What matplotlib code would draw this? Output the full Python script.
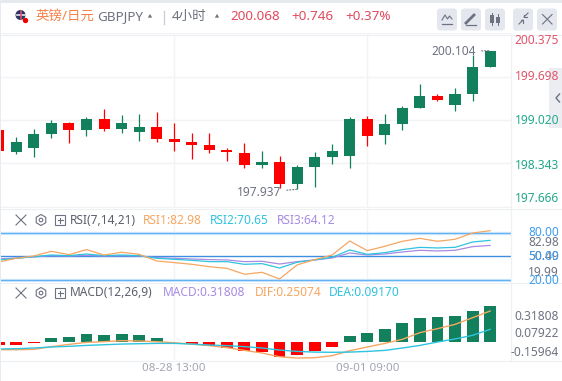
import numpy as np
import matplotlib
matplotlib.use('Agg')
import matplotlib.pyplot as plt
from matplotlib.patches import Circle, FancyBboxPatch, Rectangle, RegularPolygon

plt.rcParams['font.family'] = ['Noto Sans', 'Noto Sans CJK SC', 'DejaVu Sans']
plt.rcParams['font.size'] = 8.6

# candles, oldest one is cut by the left edge
candle_x = np.arange(-1, 28)
opens = [198.864, 198.520, 198.582, 198.801, 198.973, 198.864, 199.036, 198.879, 198.832, 198.910,
         198.723, 198.676, 198.629, 198.551, 198.504, 198.316, 198.363, 198.019, 198.285, 198.441,
         198.457, 199.036, 198.785, 198.957, 199.208, 199.395, 199.254, 199.426, 199.849]
highs = [198.864, 198.754, 198.879, 199.020, 198.989, 199.067, 199.192, 199.098, 199.114, 199.145,
         198.973, 198.817, 198.817, 198.582, 198.660, 198.535, 198.457, 198.316, 198.520, 198.645,
         199.067, 199.082, 199.114, 199.239, 199.583, 199.426, 199.520, 200.036, 200.104]
lows = [198.535, 198.488, 198.441, 198.738, 198.660, 198.770, 198.848, 198.817, 198.692, 198.676,
        198.535, 198.410, 198.504, 198.379, 198.269, 198.269, 197.957, 197.937, 197.972, 198.332,
        198.269, 198.613, 198.645, 198.864, 199.208, 199.317, 199.161, 199.317, 199.849]
closes = [198.535, 198.676, 198.801, 198.973, 198.864, 199.036, 198.879, 198.973, 198.910, 198.723,
          198.676, 198.629, 198.551, 198.520, 198.316, 198.363, 198.019, 198.285, 198.441, 198.535,
          199.036, 198.770, 198.957, 199.208, 199.395, 199.333, 199.426, 199.849, 200.099]
price_grid = [200.375, 199.698, 199.020, 198.343, 197.666]
price_labels = ['200.375', '199.698', '199.020', '198.343', '197.666']
price_label_y = [40.5, 77, 121, 165.5, 199]
price_label_colors = ['#e0556a', '#e0556a', '#23a88c', '#23a88c', '#23a88c']

rsi1 = [43.0, 47.7, 50.7, 56.6, 52.4, 58.8, 51.9, 55.4, 52.8, 44.3, 42.2, 40.0, 37.0, 34.9, 27.3,
        29.8, 21.3, 39.2, 46.0, 51.9, 69.8, 57.5, 63.0, 69.4, 73.2, 69.4, 72.0, 80.0, 82.98]
rsi2 = [45.6, 47.7, 49.8, 51.9, 51.1, 53.2, 51.1, 51.9, 51.1, 47.7, 46.4, 45.1, 43.4, 43.4, 40.0,
        40.9, 35.3, 42.6, 45.6, 49.0, 58.3, 52.8, 54.9, 58.8, 61.7, 60.9, 61.7, 68.5, 70.65]
rsi3 = [46.8, 48.1, 49.4, 51.1, 50.7, 51.5, 50.7, 51.1, 50.7, 48.5, 47.7, 46.8, 46.0, 45.6, 43.4,
        43.9, 40.4, 43.4, 45.6, 48.1, 54.5, 51.9, 53.2, 55.8, 57.9, 57.1, 57.9, 62.6, 64.12]

macd_hist = [-0.024, -0.024, -0.009, 0.035, 0.044, 0.071, 0.062, 0.071, 0.062, 0.035, 0.003, -0.015,
             -0.035, -0.053, -0.077, -0.089, -0.133, -0.115, -0.080, -0.044, 0.053, 0.080, 0.115,
             0.168, 0.212, 0.221, 0.230, 0.274, 0.31808]
dif = [-0.068, -0.068, -0.065, -0.041, -0.021, -0.003, 0.003, 0.012, 0.009, 0.003, -0.006, -0.018,
       -0.032, -0.050, -0.074, -0.097, -0.130, -0.142, -0.139, -0.121, -0.077, -0.044, -0.012, 0.024,
       0.083, 0.118, 0.156, 0.215, 0.274]
dea = [-0.062, -0.059, -0.053, -0.044, -0.038, -0.030, -0.024, -0.018, -0.015, -0.012, -0.012, -0.018,
       -0.027, -0.032, -0.041, -0.053, -0.071, -0.083, -0.089, -0.091, -0.089, -0.083, -0.074, -0.053,
       -0.030, 0.000, 0.027, 0.059, 0.112]
time_ticks = [9, 20]
time_labels = ['08-28 13:00', '09-01 09:00']

GREEN = '#12805c'
RED = '#ff0000'
ORANGE = '#f6a662'
CYAN = '#2fc3de'
PURPLE = '#a78be4'
GRID = '#f2f3f6'
GREY = '#6f7382'
W, H = 562, 381

fig = plt.figure(figsize=(W / 100, H / 100), dpi=100, facecolor='white')


def pane(x0, y0, x1, y1):
    # axes from pixel box, y counted from the top
    ax = fig.add_axes([x0 / W, 1 - y1 / H, (x1 - x0) / W, (y1 - y0) / H])
    ax.set_xlim(-0.929, 28.19)
    ax.set_xticks([])
    ax.set_yticks([])
    for s in ax.spines.values():
        s.set_visible(False)
    for t in time_ticks:
        ax.axvline(t, color=GRID, lw=1, zorder=0)
    return ax


# price pane
ax = pane(0, 33, 511, 208)
ax.set_ylim(197.644, 200.380)
for p in price_grid:
    ax.axhline(p, color=GRID, lw=1, zorder=0)
for x, o, h, l, c in zip(candle_x, opens, highs, lows, closes):
    col = GREEN if c >= o else RED
    ax.plot([x, x], [l, h], color=col, lw=0.9, solid_capstyle='butt', zorder=2)
    ax.bar(x, abs(c - o), bottom=min(o, c), width=0.63, color=col, zorder=3)
ax.annotate('197.937', xy=(16, 197.937), xytext=(15.1, 197.883), color=GREY, fontsize=8.6,
            ha='right', va='center', annotation_clip=False,
            arrowprops=dict(arrowstyle='-', ls=':', color=GREY, lw=0.8, shrinkA=2, shrinkB=0))
ax.annotate('200.104', xy=(27, 200.104), xytext=(26.2, 200.088), color=GREY, fontsize=8.6,
            ha='right', va='center', annotation_clip=False,
            arrowprops=dict(arrowstyle='-', ls=':', color=GREY, lw=0.8, shrinkA=2, shrinkB=0))

# RSI pane
ax2 = pane(0, 209, 511, 282)
ax2.set_ylim(17.4, 110.7)
ax2.axhline(80, color='#d3e9fb', lw=2.4, zorder=1)
ax2.axhline(80, color='#62b2f5', lw=0.9, zorder=1)
ax2.axhline(50, color='#3f8fe0', lw=1.0, zorder=1)
ax2.axhline(20, color='#d3e9fb', lw=2.4, zorder=1)
ax2.axhline(20, color='#62b2f5', lw=0.9, zorder=1)
ax2.plot(candle_x, rsi3, color=PURPLE, lw=0.9, zorder=2)
ax2.plot(candle_x, rsi2, color=CYAN, lw=0.9, zorder=3)
ax2.plot(candle_x, rsi1, color=ORANGE, lw=0.9, zorder=4)

# MACD pane
ax3 = pane(0, 283, 511, 360)
ax3.set_ylim(-0.159, 0.522)
hist_colors = [GREEN if v >= 0 else RED for v in macd_hist]
ax3.bar(candle_x, macd_hist, width=0.68, color=hist_colors, zorder=2)
ax3.plot(candle_x, dif, color=ORANGE, lw=1.0, zorder=3)
ax3.plot(candle_x, dea, color=CYAN, lw=1.0, zorder=4)

# everything else in plain pixels
ov = fig.add_axes([0, 0, 1, 1], zorder=10)
ov.set_xlim(0, W)
ov.set_ylim(H, 0)
ov.axis('off')
ov.patch.set_alpha(0)

ov.add_patch(Rectangle((0, 0), W, 2.5, color='#e6e9ee', lw=0))
ov.add_patch(Rectangle((0, 0), 1.2, H, color='#e8ebf3', lw=0))
for y in [34.5, 208.5, 282.5, 360.5]:
    ov.plot([1, W], [y, y], color='#eef0f3', lw=0.9)
ov.plot([511, 511], [34, 360], color='#eef0f3', lw=0.9)

# pair flag
ov.add_patch(Circle((20.5, 15), 5, color='#2b3566', lw=0))
ov.plot([16.5, 24.5], [15, 15], color='#e8e8ee', lw=1.2)
ov.plot([20.5, 20.5], [11, 19], color='#d8506a', lw=1.2)
ov.add_patch(Circle((25.5, 20.5), 2.7, color='#f00000', lw=0))

ov.text(35, 16.5, '英镑/日元', color='#f6824a', fontsize=9.7, va='center')
ov.text(97, 17, 'GBPJPY', color='#6d7180', fontsize=9.7, va='center')
ov.add_patch(RegularPolygon((150, 16.4), 3, radius=2.5, orientation=np.pi, color='#6d7180', lw=0))
ov.plot([163.5, 163.5], [11, 24], color='#c8ccd4', lw=0.9)
ov.text(172, 16.5, '4小时', color='#6d7180', fontsize=9.7, va='center')
ov.add_patch(RegularPolygon((217, 16.4), 3, radius=2.5, orientation=np.pi, color='#6d7180', lw=0))
ov.text(230, 16.5, '200.068', color='#e04a5c', fontsize=9.7, fontweight='bold', va='center')
ov.text(291, 16.5, '+0.746', color='#e04a5c', fontsize=9.7, fontweight='bold', va='center')
ov.text(345, 16.5, '+0.37%', color='#e04a5c', fontsize=9.7, fontweight='bold', va='center')

# toolbar buttons
for bx in [437, 461, 485, 513, 537]:
    ov.add_patch(FancyBboxPatch((bx + 3, 11.5), 14, 16, boxstyle='round,pad=3', color='#e5e7ee', lw=0))
ic = '#6d7180'
ov.plot([442, 445, 447.5, 449.5, 452], [20, 15, 19, 16, 19], color=ic, lw=0.8)
ov.plot([442, 452], [24, 24], color=ic, lw=0.9)
ov.plot([466, 474], [23, 15], color=ic, lw=2)
ov.plot([466, 476], [25, 25], color=ic, lw=0.9)
ov.add_patch(Rectangle((490, 15), 3.5, 8, color=ic, lw=0))
ov.add_patch(Rectangle((496, 17), 3.5, 6, color=ic, lw=0))
ov.plot([491.7, 491.7], [13, 25], color=ic, lw=0.7)
ov.plot([497.7, 497.7], [14, 25], color=ic, lw=0.7)
ov.plot([519, 523], [24, 20], color=ic, lw=0.8)
ov.plot([528, 524], [13, 17], color=ic, lw=0.8)
ov.plot([520.5, 523, 523], [20, 20, 22.5], color=ic, lw=0.8)
ov.plot([524, 524, 526.5], [14.5, 17, 17], color=ic, lw=0.8)
ov.plot([542.5, 552], [14.5, 24], color=ic, lw=0.8)
ov.plot([552, 542.5], [14.5, 24], color=ic, lw=0.8)

# price labels and side tab
ov.add_patch(Rectangle((549, 68), 13, 60, color='#ecedf2', lw=0))
ov.plot([559.5, 556, 559.5], [94, 98, 102], color='#6d7180', lw=1.0)
for lab, y, col in zip(price_labels, price_label_y, price_label_colors):
    ov.text(559, y, lab, color=col, ha='right', va='center')


def pane_icons(y):
    ov.plot([16, 26], [y - 5, y + 5], color=ic, lw=0.8)
    ov.plot([26, 16], [y - 5, y + 5], color=ic, lw=0.8)
    ov.add_patch(RegularPolygon((41, y), 6, radius=5.5, fill=False, ec=ic, lw=0.8))
    ov.add_patch(Circle((41, y), 1.8, fill=False, ec=ic, lw=0.8))
    ov.add_patch(Rectangle((55, y - 5), 10, 10, fill=False, ec=ic, lw=0.8))
    ov.plot([57.5, 62.5], [y, y], color=ic, lw=0.8)
    ov.plot([60, 60], [y - 2.5, y + 2.5], color=ic, lw=0.8)


pane_icons(220)
ov.text(70, 220, 'RSI(7,14,21)', color='#5b5f6d', va='center')
ov.text(143, 220, 'RSI1:82.98', color=ORANGE, va='center')
ov.text(210, 220, 'RSI2:70.65', color=CYAN, va='center')
ov.text(277, 220, 'RSI3:64.12', color=PURPLE, va='center')

pane_icons(293)
ov.text(70, 293, 'MACD(12,26,9)', color='#5b5f6d', va='center')
ov.text(163, 293, 'MACD:0.31808', color=PURPLE, va='center')
ov.text(255, 293, 'DIF:0.25074', color=ORANGE, va='center')
ov.text(329, 293, 'DEA:0.09170', color=CYAN, va='center')

# indicator axis labels
for lab, y, col in [('82.98', 243, GREY), ('50.49', 257, GREY), ('19.99', 273, GREY),
                    ('80.00', 233, '#3f9cf0'), ('50.00', 256.5, '#3f9cf0'), ('20.00', 281, '#3f9cf0')]:
    ov.text(559, y, lab, color=col, ha='right', va='center')
for lab, y in [('0.31808', 316), ('0.07922', 333.5), ('-0.15964', 352)]:
    ov.text(559, y, lab, color=GREY, ha='right', va='center')

# time axis, under the MACD pane
for t, lab in zip(time_ticks, time_labels):
    ax3.annotate(lab, xy=(t, 0), xycoords=ax3.get_xaxis_transform(), xytext=(0, -5.8),
                 textcoords='offset points', color='#a2a6b2', fontsize=8.3, ha='center', va='center',
                 annotation_clip=False)

fig.savefig('out.png', dpi=100)
